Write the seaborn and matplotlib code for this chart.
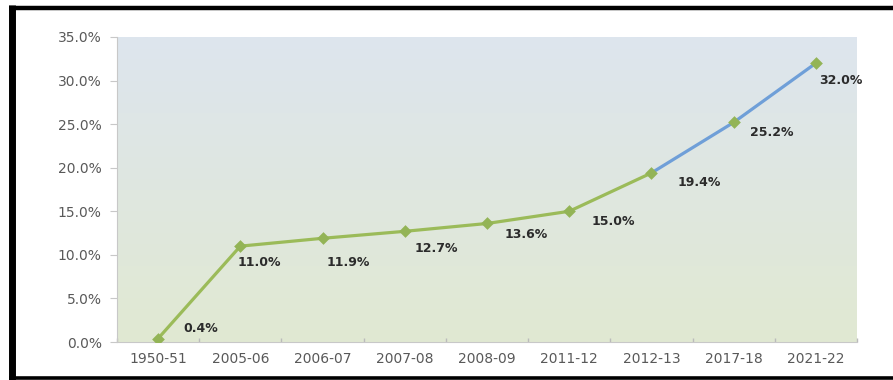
import numpy as np
import pandas as pd
import matplotlib
matplotlib.use("Agg")
import matplotlib.pyplot as plt
from matplotlib.lines import Line2D
from matplotlib.colors import LinearSegmentedColormap
from matplotlib.ticker import FuncFormatter, FixedLocator
import seaborn as sns

# ---- data ----
years = ["1950-51", "2005-06", "2006-07", "2007-08", "2008-09",
         "2011-12", "2012-13", "2017-18", "2021-22"]
share = [0.4, 11.0, 11.9, 12.7, 13.6, 15.0, 19.4, 25.2, 32.0]
value_labels = ["0.4%", "11.0%", "11.9%", "12.7%", "13.6%",
                "15.0%", "19.4%", "25.2%", "32.0%"]
split_year = "2012-13"  # green up to here, blue after

# label offsets in pixels (dx, dy) relative to each marker
label_offsets = [(25, 10), (-3, -16), (4, -24), (10, -17), (18, -11),
                 (22, -10), (26, -10), (16, -10), (3, -17)]

sns.set_theme(style="white")
plt.rcParams["font.family"] = ["DejaVu Sans"]

df = pd.DataFrame({"pos": np.arange(len(years)), "share": share, "year": years})
k = years.index(split_year)
seg_a = df.iloc[: k + 1]
seg_b = df.iloc[k:]

fig = plt.figure(figsize=(8.93, 3.8), dpi=100)
fig.patch.set_facecolor("white")
ax = fig.add_axes([117 / 893, 1 - 342 / 380, (857 - 117) / 893, (342 - 37) / 380])

# gradient background
cmap = LinearSegmentedColormap.from_list("bg", ["#e1e9d2", "#dde5ee"])
grad = np.linspace(0, 1, 256).reshape(-1, 1)
ax.imshow(grad, extent=[-0.5, 8.5, 0, 35], origin="lower", cmap=cmap,
          aspect="auto", zorder=0)

green = "#9bbb59"
blue = "#6f9fd8"
sns.lineplot(data=seg_a, x="pos", y="share", color=green, linewidth=2.3,
             ax=ax, zorder=3)
sns.lineplot(data=seg_b, x="pos", y="share", color=blue, linewidth=2.3,
             ax=ax, zorder=3)
sns.scatterplot(data=df, x="pos", y="share", marker="D", s=42, color="#93b456",
                edgecolor="#93b456", linewidth=0, ax=ax, zorder=4)

for i, (p, v, lab) in enumerate(zip(df["pos"], share, value_labels)):
    dx, dy = label_offsets[i]
    ax.annotate(lab, (p, v), xytext=(dx, dy), textcoords="offset pixels",
                ha="left", va="center", fontsize=9, fontweight="bold",
                color="#2b2b2b", zorder=5)

ax.set_xlim(-0.5, len(years) - 0.5)
ax.set_ylim(0, 35)
ax.set_xticks(np.arange(len(years)))
ax.set_xticklabels(years)
ax.xaxis.set_minor_locator(FixedLocator(np.arange(-0.5, len(years), 1.0)))
ax.set_yticks(np.arange(0, 35.1, 5))
ax.yaxis.set_major_formatter(FuncFormatter(lambda v, _: f"{v:.1f}%"))
ax.set_xlabel("")
ax.set_ylabel("")
ax.tick_params(axis="x", which="major", length=0, pad=7, labelsize=10,
               labelcolor="#595959")
ax.tick_params(axis="x", which="minor", length=3, color="#bbbbbb",
               direction="in", bottom=True)
ax.tick_params(axis="y", which="major", length=5, width=0.8, color="#c8c8c8",
               pad=6, labelsize=10, labelcolor="#595959", left=True)
for s in ["top", "right"]:
    ax.spines[s].set_visible(False)
for s in ["left", "bottom"]:
    ax.spines[s].set_color("#c8c8c8")
    ax.spines[s].set_linewidth(0.8)

# black frame around the figure
W, H = 893, 380
frame_kw = dict(transform=fig.transFigure, color="black", solid_capstyle="butt")
fig.add_artist(Line2D([12 / W, 12 / W], [1 - 5 / H, 1 - 380 / H],
                      linewidth=5, **frame_kw))
fig.add_artist(Line2D([9 / W, 1.0], [1 - 7.5 / H, 1 - 7.5 / H],
                      linewidth=3.2, **frame_kw))
fig.add_artist(Line2D([9 / W, 1.0], [1 - 377.5 / H, 1 - 377.5 / H],
                      linewidth=2.6, **frame_kw))

fig.savefig("out.png", dpi=100)
